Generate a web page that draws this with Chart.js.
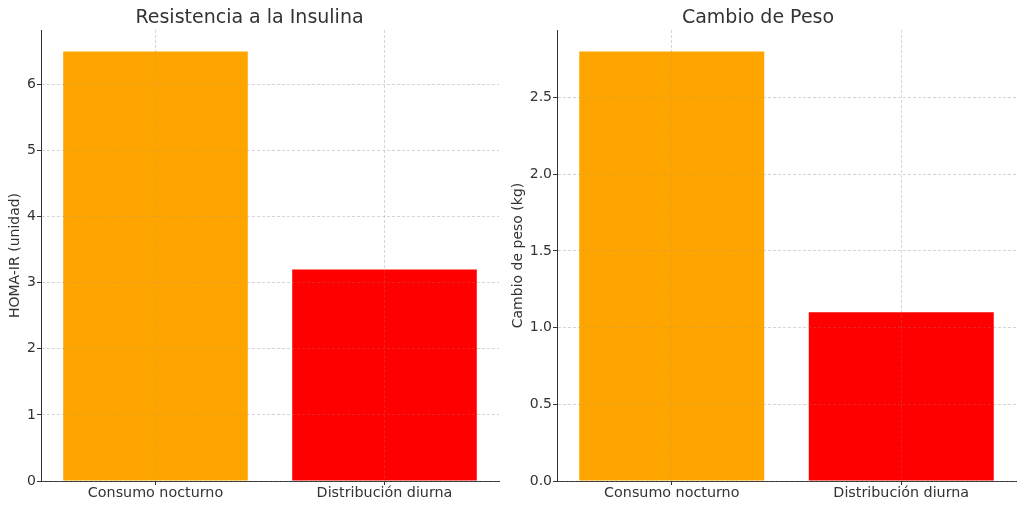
<!DOCTYPE html>
<html>
<head>
<meta charset="utf-8">
<script src="https://cdn.jsdelivr.net/npm/chart.js@4.4.1/dist/chart.umd.min.js"></script>
<style>
  html, body { margin: 0; padding: 0; background: #fff; }
  #wrap { position: relative; width: 1024px; height: 520px; overflow: hidden; }
  #c1 { position: absolute; left: 0; top: 0; }
  #c2 { position: absolute; left: 500px; top: 0; }
</style>
</head>
<body>
<div id="wrap">
  <canvas id="c1" width="500" height="520" style="width:500px;height:520px"></canvas>
  <canvas id="c2" width="524" height="520" style="width:524px;height:520px"></canvas>
</div>
<script>
const categories = ['Consumo nocturno', 'Distribución diurna'];
const homaValues = [6.5, 3.2];
const pesoValues = [2.8, 1.1];
const homaMax = 6.825;
const pesoMax = 2.94;
const homaStep = 1;
const pesoStep = 0.5;

const FONT = 'DejaVu Sans';
const TXT = '#333333';
Chart.defaults.font.family = FONT;
Chart.defaults.color = TXT;
Chart.defaults.devicePixelRatio = 1;

const gridOverPlugin = {
  id: 'gridOver',
  afterDatasetsDraw(chart) {
    const ctx = chart.ctx;
    ['x', 'y'].forEach(id => {
      const s = chart.scales[id];
      if (!s) return;
      ctx.save();
      s.drawGrid(chart.chartArea);
      if (typeof s.drawBorder === 'function') s.drawBorder();
      ctx.restore();
    });
  }
};

function makeChart(canvasId, title, yTitle, values, yMax, step, decimals, yWidth, titlePadTop, padRight) {
  return new Chart(document.getElementById(canvasId), {
    type: 'bar',
    data: {
      labels: categories,
      datasets: [{
        data: values,
        backgroundColor: ['#FFA500', '#FF0000'],
        borderWidth: 0,
        barPercentage: 0.806,
        categoryPercentage: 1.0
      }]
    },
    plugins: [gridOverPlugin],
    options: {
      responsive: false,
      animation: false,
      layout: { padding: { left: 0, right: padRight, top: 0, bottom: 0 } },
      plugins: {
        legend: { display: false },
        tooltip: { enabled: false },
        title: {
          display: true,
          text: title,
          color: TXT,
          font: { family: FONT, size: 19, weight: 'normal' },
          padding: { top: 7, bottom: 0.2 }
        }
      },
      scales: {
        x: {
          offset: true,
          grid: {
            offset: false,
            color: 'rgba(150,150,150,0.28)',
            lineWidth: 0.8,
            tickColor: '#333333',
            tickLength: 4,
            tickBorderDash: [],
            tickWidth: 1
          },
          border: { display: true, color: '#333333', width: 1, dash: [3, 2] },
          ticks: {
            color: TXT,
            font: { family: FONT, size: 14.3 },
            maxRotation: 0,
            minRotation: 0,
            padding: 0
          },
          afterFit(scale) { scale.height = 39; }
        },
        y: {
          min: 0,
          max: yMax,
          grid: {
            color: 'rgba(150,150,150,0.28)',
            lineWidth: 0.8,
            tickColor: '#333333',
            tickLength: 4,
            tickBorderDash: [],
            tickWidth: 1
          },
          border: { display: true, color: '#333333', width: 1, dash: [3, 2] },
          ticks: {
            stepSize: step,
            includeBounds: false,
            color: TXT,
            font: { family: FONT, size: 14 },
            padding: 1,
            callback: (v) => Number(v).toFixed(decimals)
          },
          title: {
            display: true,
            text: yTitle,
            color: TXT,
            font: { family: FONT, size: 14 },
            padding: { top: titlePadTop, bottom: 0 }
          },
          afterFit(scale) { scale.width = yWidth; }
        }
      }
    }
  });
}

makeChart('c1', 'Resistencia a la Insulina', 'HOMA-IR (unidad)', homaValues, homaMax, homaStep, 0, 41, 6.6, 1);
makeChart('c2', 'Cambio de Peso', 'Cambio de peso (kg)', pesoValues, pesoMax, pesoStep, 1, 57, 9.6, 8);
</script>
</body>
</html>
